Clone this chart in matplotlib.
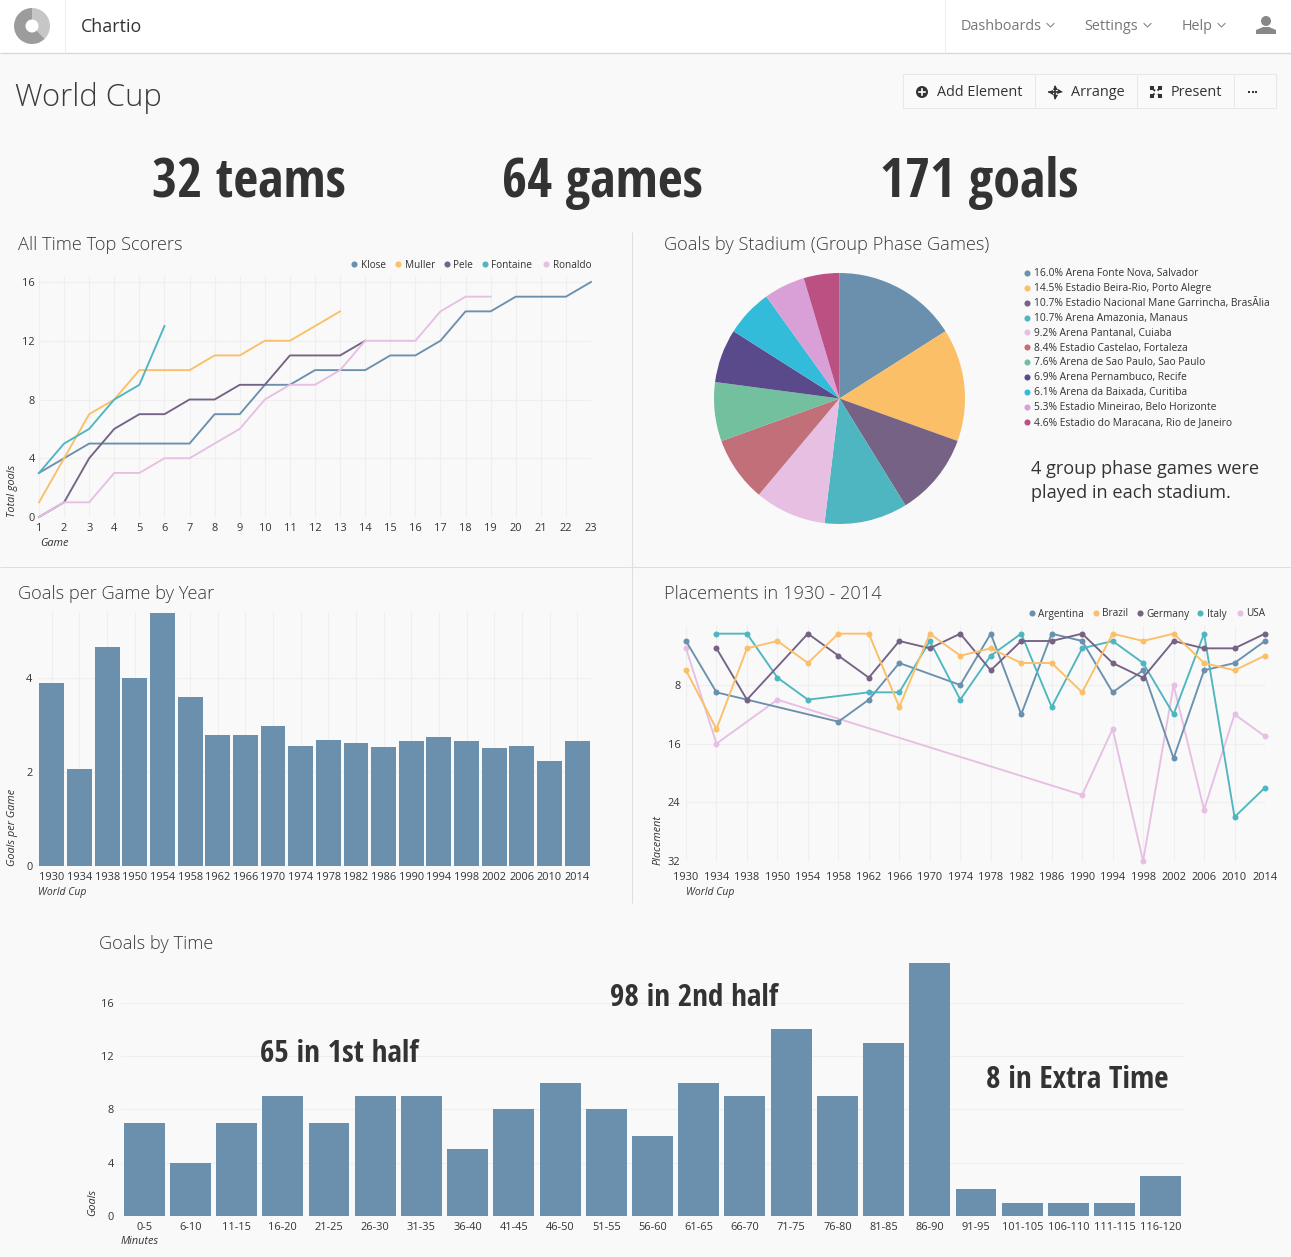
import numpy as np
import matplotlib
matplotlib.use("Agg")
import matplotlib.pyplot as plt
from matplotlib.patches import Wedge, Circle, Rectangle, Polygon

W, H = 1291, 1257
BG = '#f9f9f9'
INK = '#333333'
GRID = '#efefef'
C = ['#6a90ae', '#fbbf67', '#756285', '#4eb6c0', '#e6bfe3', '#c1707a', '#72c09d',
     '#5a4a8c', '#33bcd9', '#d9a0d8', '#bb5083']

plt.rcParams['font.family'] = ['Open Sans', 'DejaVu Sans']

# ---- data ----
scorers = ['Klose', 'Muller', 'Pele', 'Fontaine', 'Ronaldo']
klose = [3, 4, 5, 5, 5, 5, 5, 7, 7, 9, 9, 10, 10, 10, 11, 11, 12, 14, 14, 15, 15, 15, 16]
muller = [1, 4, 7, 8, 10, 10, 10, 11, 11, 12, 12, 13, 14]
pele = [0, 1, 4, 6, 7, 7, 8, 8, 9, 9, 11, 11, 11, 12]
fontaine = [3, 5, 6, 8, 9, 13]
ronaldo = [0, 1, 1, 3, 3, 4, 4, 5, 6, 8, 9, 9, 10, 12, 12, 12, 14, 15, 15]

stadium_pct = [16.0, 14.5, 10.7, 10.7, 9.2, 8.4, 7.6, 6.9, 6.1, 5.3, 4.6]
stadium_names = ['Arena Fonte Nova, Salvador', 'Estadio Beira-Rio, Porto Alegre',
                 'Estadio Nacional Mane Garrincha, BrasÃlia', 'Arena Amazonia, Manaus',
                 'Arena Pantanal, Cuiaba', 'Estadio Castelao, Fortaleza',
                 'Arena de Sao Paulo, Sao Paulo', 'Arena Pernambuco, Recife',
                 'Arena da Baixada, Curitiba', 'Estadio Mineirao, Belo Horizonte',
                 'Estadio do Maracana, Rio de Janeiro']

years = ['1930', '1934', '1938', '1950', '1954', '1958', '1962', '1966', '1970', '1974',
         '1978', '1982', '1986', '1990', '1994', '1998', '2002', '2006', '2010', '2014']
goals_per_game = [3.89, 2.06, 4.65, 4.0, 5.38, 3.6, 2.78, 2.78, 2.97, 2.55,
                  2.68, 2.62, 2.54, 2.67, 2.75, 2.67, 2.52, 2.56, 2.23, 2.67]

nan = float('nan')
teams = ['Argentina', 'Brazil', 'Germany', 'Italy', 'USA']
argentina = [2, 9, nan, nan, nan, 13, 10, 5, nan, 8, 1, 12, 1, 2, 9, 6, 18, 6, 5, 2]
brazil = [6, 14, 3, 2, 5, 1, 1, 11, 1, 4, 3, 5, 5, 9, 1, 2, 1, 5, 6, 4]
germany = [nan, 3, 10, nan, 1, 4, 7, 2, 3, 1, 6, 2, 2, 1, 5, 7, 2, 3, 3, 1]
italy = [nan, 1, 1, 7, 10, nan, 9, 9, 2, 10, 4, 1, 11, 3, 2, 5, 12, 1, 26, 22]
usa = [3, 16, nan, 10, nan, nan, nan, nan, nan, nan, nan, nan, nan, 23, 14, 32, 8, 25, 12, 15]

minutes = ['0-5', '6-10', '11-15', '16-20', '21-25', '26-30', '31-35', '36-40', '41-45',
           '46-50', '51-55', '56-60', '61-65', '66-70', '71-75', '76-80', '81-85', '86-90',
           '91-95', '101-105', '106-110', '111-115', '116-120']
goals_by_time = [7, 4, 7, 9, 7, 9, 9, 5, 8, 10, 8, 6, 10, 9, 14, 9, 13, 19, 2, 1, 1, 1, 3]

# ---- helpers ----
fig = plt.figure(figsize=(W / 100, H / 100), dpi=100, facecolor=BG)


def ax_px(l, t, r, b, **kw):
    ax = fig.add_axes([l / W, 1 - b / H, (r - l) / W, (b - t) / H], **kw)
    ax.set_facecolor('none')
    for s in ax.spines.values():
        s.set_visible(False)
    ax.tick_params(length=0, labelsize=7.9, labelcolor=INK, pad=3)
    ax.set_axisbelow(True)
    return ax


ov = fig.add_axes([0, 0, 1, 1], zorder=5)
ov.set_xlim(0, W)
ov.set_ylim(H, 0)
ov.axis('off')
ov.patch.set_alpha(0)


def T(x, y, s, size=7.7, color=INK, ha='left', va='center', **kw):
    ov.text(x, y + 1, s, fontsize=size, color=color, ha=ha, va=va, **kw)


def hline(y, x0, x1, c='#dddddd', lw=0.75):
    ov.plot([x0, x1], [y, y], color=c, lw=lw, solid_capstyle='butt')


def vline(x, y0, y1, c='#dddddd', lw=0.75):
    ov.plot([x, x], [y0, y1], color=c, lw=lw, solid_capstyle='butt')


def legend(items, xs, y):
    for name, x, col in zip(items, xs, C):
        ov.plot([x], [y], 'o', ms=4.4, color=col, mew=0)
        T(x + 6.5, y, name, size=7.2)


# ---- header ----
ov.add_patch(Rectangle((0, 0), W, 53, color='white', lw=0))
hline(53, 0, W, '#d8d8d8', 1)
vline(65, 0, 53, '#eeeeee')
vline(945, 0, 53, '#eeeeee')
ov.add_patch(Wedge((32, 26), 18, -90, 45, width=11.5, color='#c6c6c6', lw=0))
ov.add_patch(Wedge((32, 26), 18, 45, 270, width=11.5, color='#9c9c9c', lw=0))
T(81, 25.5, 'Chartio', size=12.9, color='#333333')
for x, s in [(961, 'Dashboards'), (1084.5, 'Settings'), (1181.5, 'Help')]:
    T(x, 25, s, size=10.4, color='#777777')
for x in (1050.5, 1147.5, 1221.5):
    ov.plot([x - 3.5, x, x + 3.5], [23.5, 27, 23.5], color='#888888', lw=0.8)
ov.add_patch(Circle((1266, 21), 5, color='#888888', lw=0))
ov.add_patch(Polygon([(1256, 34), (1256, 30), (1263, 27), (1269, 27), (1276, 30), (1276, 34)],
                     color='#888888', lw=0))

# ---- page title and toolbar ----
T(15, 96.5, 'World Cup', size=22.3, color='#3a3a3a', fontweight='light')
ov.add_patch(Rectangle((903, 74), 372.5, 33.5, fc='#fafafa', ec='#e8e8e8', lw=0.75))
for x in (1035, 1137, 1234):
    vline(x, 75, 107, '#e8e8e8')
ov.add_patch(Circle((922, 92), 6, color='#333333', lw=0))
ov.plot([919, 925], [92, 92], color='white', lw=1.2)
ov.plot([922, 922], [89, 95], color='white', lw=1.2)
T(937, 91, 'Add Element', size=10.4)
ov.plot([1049, 1060], [92, 92], color='#333333', lw=1.2)
ov.plot([1054.5, 1054.5], [86.5, 97.5], color='#333333', lw=1.2)
for dx, dy, mk in [(-5, 0, '<'), (5, 0, '>'), (0, -5, '^'), (0, 5, 'v')]:
    ov.plot([1054.5 + dx], [92 + dy], marker=mk, ms=3.6, color='#333333', mew=0)
T(1071, 91, 'Arrange', size=10.4)
ov.plot([1151, 1161], [87, 97], color='#333333', lw=1.3)
ov.plot([1151, 1161], [97, 87], color='#333333', lw=1.3)
for dx, dy in [(-4, -4), (4, -4), (-4, 4), (4, 4)]:
    ov.plot([1156 + dx], [92 + dy], 's', ms=3.2, color='#333333', mew=0)
ov.plot([1156], [92], 'D', ms=3, color='#fafafa', mew=0)
T(1171, 91, 'Present', size=10.4)
ov.scatter([1249, 1252.5, 1256], [91.5, 91.5, 91.5], s=3.2, marker='s', color='#333333', lw=0)

# ---- headline numbers ----
head = dict(family=['Open Sans Condensed', 'Open Sans'], fontweight='bold', color=INK, fontstretch='condensed')
T(249, 182, '32 teams', size=39, ha='center', **head)
T(602, 182, '64 games', size=39, ha='center', **head)
T(979, 182, '171 goals', size=39, ha='center', **head)
T(694, 997.5, '98 in 2nd half', size=22.4, ha='center', **head)
T(339, 1052.5, '65 in 1st half', size=22.4, ha='center', **head)
T(1077, 1078.5, '8 in Extra Time', size=22.4, ha='center', **head)

# ---- panel separators ----
hline(567, 0, W, '#dedede')
vline(632, 232, 903, '#dedede')

# ---- panel titles ----
for x, y, s in [(18, 244, 'All Time Top Scorers'), (664, 244, 'Goals by Stadium (Group Phase Games)'),
                (18, 593, 'Goals per Game by Year'), (664, 593, 'Placements in 1930 - 2014'),
                (99, 943, 'Goals by Time')]:
    T(x, y, s, size=13.15, color='#3a3a3a', fontweight='light')

# ---- top scorers ----
top = 276
ax = ax_px(39, top, 591, 517)
ax.set_xlim(1, 23)
ax.set_ylim(0, 16 * (517 - top) / (517 - 282))
ax.set_xticks(range(1, 24))
ax.set_yticks([0, 4, 8, 12, 16])
ax.grid(color=GRID, lw=0.75)
ax.tick_params(axis='x', pad=4.5)
ax.tick_params(axis='y', pad=3)
for j, series in enumerate([klose, muller, pele, fontaine, ronaldo]):
    order = [0, 1, 2, 4, 3][j]
    ax.plot(range(1, len(series) + 1), series, color=C[j], lw=1.35, clip_on=False,
            zorder=3 + order, solid_joinstyle='round')
legend(scorers, [354, 398, 447, 485, 546], 264)
T(13, 490, 'Total goals', size=7.8, rotation=90, ha='center', style='italic')
T(40, 542, 'Game', size=7.8, style='italic')

# ---- pie ----
pax = ax_px(714, 273, 965, 524)
pax.pie(stadium_pct, colors=C, startangle=90, counterclock=False, radius=1,
        wedgeprops=dict(lw=0))
pax.set_xlim(-1, 1)
pax.set_ylim(-1, 1)
for i, (p, n) in enumerate(zip(stadium_pct, stadium_names)):
    y = 273 + i * 14.87
    ov.plot([1026.5], [y], 'o', ms=4.4, color=C[i], mew=0)
    T(1033.5, y - 0.3, f'{p:.1f}% {n}', size=7.35)
T(1031, 467.5, '4 group phase games were', size=13.1, color='#333333')
T(1031, 492.5, 'played in each stadium.', size=13.1, color='#333333')

# ---- goals per game ----
ax = ax_px(38, 612, 591, 866)
ax.bar(range(len(years)), goals_per_game, width=0.9, color=C[0], zorder=3)
ax.set_xlim(-0.5, len(years) - 0.5)
ax.set_ylim(0, 254 / 47)
ax.set_xticks(range(len(years)), years)
ax.set_yticks([0, 2, 4])
ax.grid(color=GRID, lw=0.75)
ax.tick_params(axis='x', pad=4.5, labelsize=7.9)
ax.tick_params(axis='y', pad=4)
T(13, 826, 'Goals per Game', size=7.8, rotation=90, ha='center', style='italic')
T(38, 891, 'World Cup', size=7.5, style='italic')

# ---- placements ----
top = 626
ax = ax_px(686, top, 1265, 861)
ax.set_xlim(0, len(years) - 1)
ax.set_ylim(32, 32 - (861 - top) / (176 / 24))
ax.set_xticks(range(len(years)), years)
ax.set_yticks([8, 16, 24, 32])
ax.grid(color=GRID, lw=0.75)
ax.tick_params(axis='x', labelsize=7.9, pad=8)
ax.tick_params(axis='y', pad=4)
xs = np.arange(len(years))
draw_order = {4: 3, 0: 4, 3: 5, 2: 6, 1: 7}
for j, series in enumerate([argentina, brazil, germany, italy, usa]):
    v = np.array(series, dtype=float)
    m = ~np.isnan(v)
    ax.plot(xs[m], v[m], '-o', color=C[j], lw=1.35, ms=4.3, mew=0, clip_on=False,
            zorder=draw_order[j])
legend(teams, [1032, 1095.5, 1140, 1200, 1239.5], 613)
T(658, 839, 'Placement', size=7.8, rotation=90, ha='center', style='italic')
T(686, 891, 'World Cup', size=7.5, style='italic')

# ---- goals by time ----
ax = ax_px(121, 960, 1184, 1216)
ax.bar(range(len(minutes)), goals_by_time, width=0.885, color=C[0], zorder=3)
ax.set_xlim(-0.5, len(minutes) - 0.5)
ax.set_ylim(0, 256 / 13.33)
ax.set_xticks(range(len(minutes)), minutes)
ax.set_yticks([0, 4, 8, 12, 16])
ax.grid(axis='y', color=GRID, lw=0.75)
ax.tick_params(axis='y', pad=5)
ax.tick_params(axis='x', pad=4)
T(93, 1201, 'Goals', size=7.8, rotation=90, ha='center', style='italic')
T(121, 1241, 'Minutes', size=7.8, style='italic')

fig.savefig('out.png', dpi=100, facecolor=BG)
